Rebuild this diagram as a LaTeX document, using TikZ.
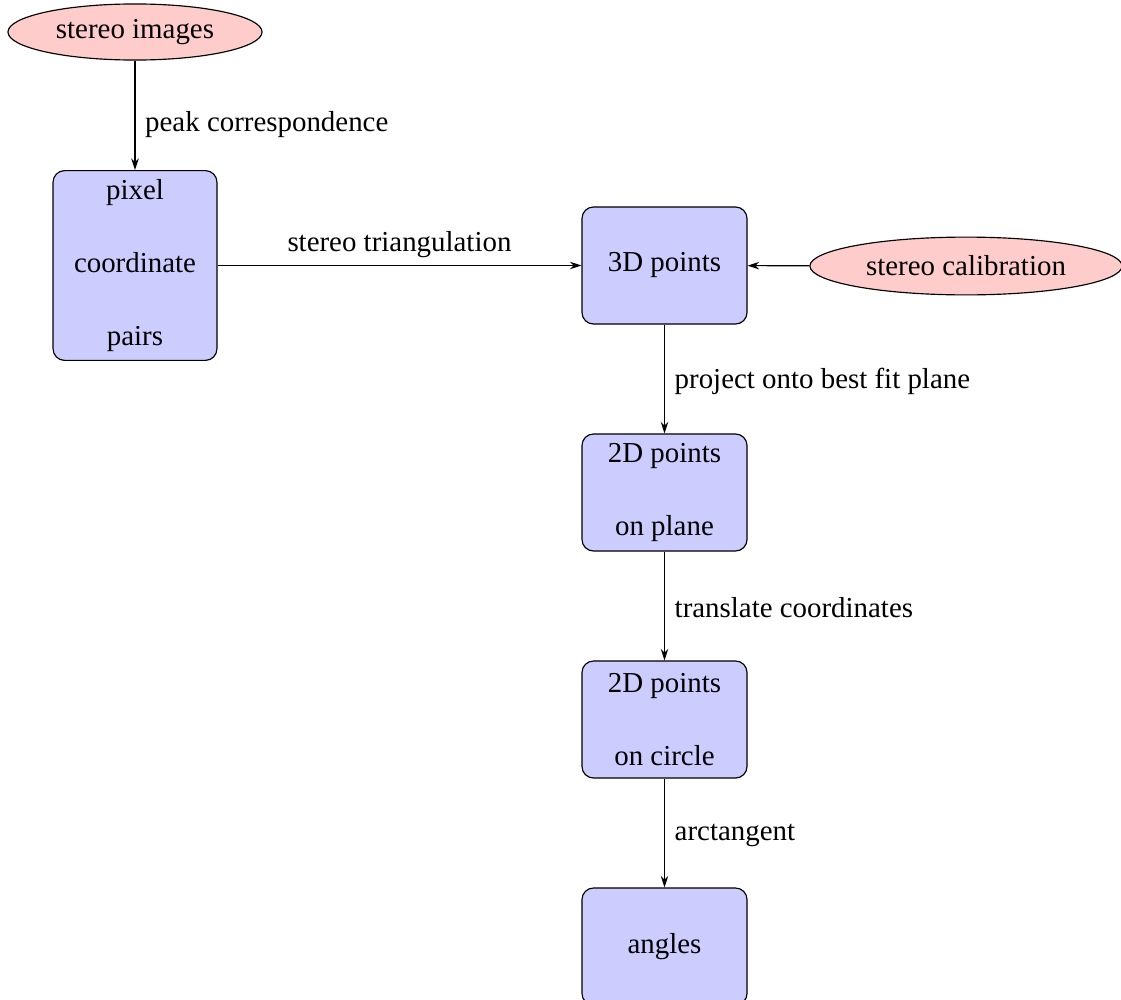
\documentclass[tikz,border=0pt]{standalone}
\usepackage{fontspec}
\setmainfont{Liberation Serif}
\usetikzlibrary{shapes.geometric,arrows.meta}
\begin{document}
\begin{tikzpicture}[x=0.346pt,y=-0.346pt,
  procbox/.style={draw, rounded corners=4pt, fill=blue!20, align=center,
    minimum width=57.1pt, minimum height=40.5pt, inner sep=3pt},
  srcell/.style={draw, ellipse, fill=red!20, inner sep=1pt},
  flow/.style={-{Stealth[length=4pt,width=2.6pt]}},
  lab/.style={font=\normalsize, yshift=-0.7pt}
]
\useasboundingbox (0,0) rectangle (1121,1000);
\node[srcell, minimum width=87.9pt, minimum height=19.4pt] (img) at (135,32) {stereo images};
\node[procbox, minimum width=56.7pt, minimum height=65.4pt] (pix) at (135,265.5) {pixel\\[13.3pt]coordinate\\[13.3pt]pairs};
\node[procbox] (p3d) at (664.5,265.5) {3D points};
\node[srcell, minimum width=108pt, minimum height=20pt] (cal) at (966,266) {stereo calibration};
\node[procbox] (plane) at (664.5,492.5) {2D points\\[13.3pt]on plane};
\node[procbox] (circ) at (664.5,719.5) {2D points\\[13.3pt]on circle};
\node[procbox] (ang) at (664.5,946.5) {angles};
\draw[flow] (img) -- node[right, lab, pos=0.57] {peak correspondence} (pix);
\draw[flow] (pix) -- node[above, lab] {stereo triangulation} (p3d);
\draw[flow] (cal) -- (p3d);
\draw[flow] (p3d) -- node[right, lab] {project onto best fit plane} (plane);
\draw[flow] (plane) -- node[right, lab] {translate coordinates} (circ);
\draw[flow] (circ) -- node[right, lab] {arctangent} (ang);
\end{tikzpicture}
\end{document}
